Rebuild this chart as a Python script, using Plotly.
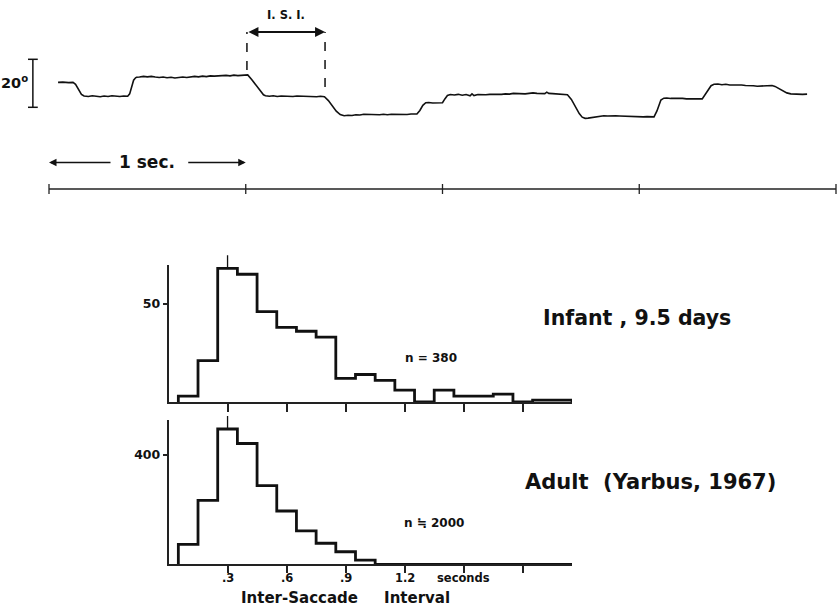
import plotly.graph_objects as go

# ---------------- data ----------------
# Eye-position record (time in s, horizontal eye position in degrees)
eye_t = [0.046, 0.07, 0.10, 0.122, 0.135, 0.150, 0.165, 0.178,
         0.20, 0.22, 0.24, 0.26, 0.28, 0.30, 0.32, 0.34, 0.36, 0.38, 0.40,
         0.41, 0.42, 0.43, 0.44, 0.445,
         0.46, 0.48, 0.50, 0.52, 0.54, 0.56, 0.58, 0.60, 0.62, 0.64, 0.66, 0.68, 0.70,
         0.72, 0.74, 0.76, 0.78, 0.80, 0.82, 0.84, 0.86, 0.88, 0.90, 0.92, 0.94, 0.96,
         0.98, 1.00, 1.01,
         1.03, 1.05, 1.07, 1.09, 1.10,
         1.12, 1.14, 1.16, 1.18, 1.20, 1.22, 1.24, 1.26, 1.28, 1.30, 1.32, 1.34, 1.36,
         1.38, 1.40,
         1.42, 1.44, 1.46, 1.48, 1.50,
         1.52, 1.54, 1.56, 1.58, 1.60, 1.62, 1.64, 1.66, 1.68, 1.70, 1.72, 1.74, 1.76,
         1.78, 1.80, 1.82, 1.84, 1.86, 1.87,
         1.885, 1.90, 1.915,
         1.93, 1.95, 1.97, 1.99, 2.00,
         2.012, 2.025, 2.04,
         2.06, 2.08, 2.10, 2.12, 2.14, 2.15, 2.16, 2.18, 2.20, 2.22, 2.24, 2.26, 2.28,
         2.30, 2.32, 2.34, 2.36, 2.38, 2.40, 2.42, 2.44, 2.46, 2.48, 2.50, 2.52, 2.53,
         2.54, 2.56, 2.58, 2.60, 2.62, 2.635,
         2.655, 2.675, 2.695, 2.71, 2.725,
         2.74, 2.76, 2.78, 2.80, 2.82, 2.84, 2.86, 2.88, 2.90, 2.92, 2.94, 2.96, 2.98,
         3.00, 3.02, 3.04, 3.06, 3.075,
         3.09, 3.10, 3.11, 3.125,
         3.14, 3.16, 3.18, 3.20, 3.22, 3.24, 3.26, 3.28, 3.30, 3.32,
         3.335, 3.35, 3.365, 3.38,
         3.40, 3.42, 3.44, 3.46, 3.48, 3.50, 3.52, 3.54, 3.56, 3.58, 3.60, 3.62, 3.64,
         3.66, 3.675,
         3.69, 3.71, 3.73, 3.75, 3.77,
         3.79, 3.81, 3.83, 3.853]
eye_deg = [10.4, 10.5, 10.3, 10.4, 9.6, 7.3, 5.4, 4.7,
           4.5, 4.8, 4.6, 4.4, 4.7, 4.5, 4.8, 4.6, 4.5, 4.7, 4.6,
           5.6, 8.5, 11.3, 12.3, 12.5,
           12.6, 12.9, 12.7, 12.9, 12.6, 12.4, 12.6, 12.3, 12.5, 12.2, 12.4, 12.6, 12.4,
           12.7, 12.9, 12.7, 13.0, 12.8, 13.1, 13.0, 13.2, 13.1, 13.3, 13.1, 13.4, 13.2,
           13.4, 13.5, 13.5,
           11.6, 9.3, 7.0, 5.2, 4.8,
           4.6, 4.8, 4.5, 4.7, 4.6, 4.8, 4.5, 4.7, 4.6, 4.8, 4.5, 4.6, 4.4,
           4.6, 4.4,
           2.8, 0.5, -1.6, -3.0, -3.5,
           -3.3, -3.4, -3.1, -3.2, -2.9, -3.0, -2.8, -3.0, -3.1, -2.9, -3.1, -2.9, -3.0,
           -2.8, -2.9, -3.0, -2.8, -2.9, -2.8,
           -1.3, 0.8, 1.9,
           2.0, 1.8, 1.9, 1.8, 1.9,
           3.5, 4.9, 5.3,
           5.1, 5.4, 5.0, 5.3, 4.8, 5.6, 4.9, 5.3, 5.1, 5.2, 5.4, 5.3, 5.5,
           5.4, 5.6, 5.5, 5.8, 5.7, 5.9, 5.6, 5.8, 6.0, 5.8, 5.9, 5.7, 6.3,
           5.8, 5.7, 5.6, 5.5, 5.4, 5.2,
           3.3, 0.3, -2.6, -4.1, -4.6,
           -4.5, -4.2, -3.9, -3.7, -3.5, -3.6, -3.4, -3.5, -3.6, -3.7, -3.6, -3.8, -3.9,
           -3.8, -4.0, -3.9, -4.1, -4.0,
           -1.5, 1.2, 3.0, 3.8,
           3.9, 3.7, 3.8, 3.6, 3.7, 3.5, 3.6, 3.4, 3.5, 3.5,
           5.2, 7.4, 9.0, 9.6,
           9.7, 9.4, 9.6, 9.3, 9.4, 9.2, 9.3, 9.1, 9.2, 9.0, 8.8, 8.9, 9.1,
           9.2, 9.1,
           8.7, 7.9, 6.9, 6.0, 5.6,
           5.5, 5.6, 5.4, 5.5]

isi_start = 1.006      # saccades bounding the marked inter-saccade interval
isi_end = 1.403
time_ticks = [0, 1, 2, 3, 4]      # seconds on the time scale bar
deg_scale = [0, 20]               # calibration bar, degrees

# Inter-saccade interval histograms (bin centres in s, counts)
bin_centers = [0.1, 0.2, 0.3, 0.4, 0.5, 0.6, 0.7, 0.8, 0.9, 1.0,
               1.1, 1.2, 1.3, 1.4, 1.5, 1.6, 1.7, 1.8, 1.9, 2.0]
infant_counts = [3, 21, 68, 65, 46, 38, 36, 33, 12, 14,
                 11, 6, 0, 6, 3, 3, 4, 0, 1, 1]
adult_counts = [73, 234, 495, 442, 288, 195, 122, 77, 46, 15,
                0, 0, 0, 0, 0, 0, 0, 0, 0, 0]
infant_mode = 0.3
adult_mode = 0.3
hist_ticks = [0.3, 0.6, 0.9, 1.2, 1.5, 1.8]
adult_tick_text = ['.3', '.6', '.9', '1.2', 'seconds', '']

# ---------------- layout helpers ----------------
W, H = 838, 610
FONT = 'DejaVu Sans'
INK = '#111111'


def px(x):
    return x / W


def py(y):
    return 1 - y / H


bw = bin_centers[1] - bin_centers[0]


def step_xy(counts):
    xs = [bin_centers[0] - bw / 2]
    ys = [0]
    for c, v in zip(bin_centers, counts):
        xs.append(c - bw / 2)
        ys.append(v)
    xs.append(bin_centers[-1] + bw / 2)
    ys.append(0)
    return xs, ys


fig = go.Figure()

# eye-position trace
fig.add_trace(go.Scatter(x=eye_t, y=eye_deg, mode='lines', xaxis='x', yaxis='y',
                         line=dict(color=INK, width=1.6), hoverinfo='skip'))
# 20 degree calibration bar
fig.add_trace(go.Scatter(x=[-0.082, -0.082], y=deg_scale, mode='lines+markers',
                         xaxis='x', yaxis='y',
                         line=dict(color=INK, width=1.5),
                         marker=dict(symbol='line-ew', size=7,
                                     line=dict(color=INK, width=1.5)),
                         hoverinfo='skip'))

# histograms
ix, iy = step_xy(infant_counts)
fig.add_trace(go.Scatter(x=ix, y=iy, mode='lines', xaxis='x2', yaxis='y2',
                         line=dict(color=INK, width=2.8, shape='hv'),
                         cliponaxis=False, hoverinfo='skip'))
ax_, ay_ = step_xy(adult_counts)
fig.add_trace(go.Scatter(x=ax_, y=ay_, mode='lines', xaxis='x3', yaxis='y3',
                         line=dict(color=INK, width=2.8, shape='hv'),
                         cliponaxis=False, hoverinfo='skip'))

# axis geometry
x_dom = [px(168.5), px(572)]
x_rng = [0, 2.05]
y2_dom = [py(402), py(265)]
y2_rng = [0, 69.7]
y3_dom = [py(564.3), py(420)]
y3_rng = [0, 528]

trace_x_rng = [(0 - 49) / 196.75, (W - 49) / 196.75]
trace_y_rng = [(107.3 - H) / 2.4, 107.3 / 2.4]


def to_paper(v, dom, rng):
    return dom[0] + (v - rng[0]) / (rng[1] - rng[0]) * (dom[1] - dom[0])


hidden = dict(visible=False, showgrid=False, zeroline=False, fixedrange=True)
hist_x_common = dict(domain=x_dom, range=x_rng, showline=True, linecolor='#222',
                     linewidth=1.5, ticks='outside', tickcolor='#222', tickwidth=1.5,
                     tickvals=hist_ticks, showticklabels=False,
                     showgrid=False, zeroline=False)
hist_y_common = dict(showline=True, linecolor='#222', linewidth=1.5,
                     ticks='outside', ticklen=4, tickcolor='#222', tickwidth=1.5,
                     showgrid=False, zeroline=False,
                     tickfont=dict(family=FONT, size=12.5, color=INK))

fig.update_layout(
    width=W, height=H, margin=dict(l=0, r=0, t=0, b=0),
    paper_bgcolor='white', plot_bgcolor='rgba(0,0,0,0)', showlegend=False,
    xaxis=dict(domain=[0, 1], range=trace_x_rng, **hidden),
    yaxis=dict(domain=[0, 1], range=trace_y_rng, **hidden),
    xaxis2=dict(anchor='y2', ticklen=8, **hist_x_common),
    yaxis2=dict(anchor='x2', domain=y2_dom, range=y2_rng,
                tickvals=[50], ticktext=['<b>50</b>'], **hist_y_common),
    xaxis3=dict(anchor='y3', ticklen=7, **hist_x_common),
    yaxis3=dict(anchor='x3', domain=y3_dom, range=y3_rng,
                tickvals=[400], ticktext=['<b>400</b>'], **hist_y_common),
)

shapes = []
# time scale bar with second ticks
bar_y = py(189)
shapes.append(dict(type='line', xref='x', yref='paper', x0=time_ticks[0], x1=time_ticks[-1],
                   y0=bar_y, y1=bar_y, line=dict(color='#222', width=1.5)))
for t in time_ticks:
    shapes.append(dict(type='line', xref='x', yref='paper', x0=t, x1=t,
                       y0=py(184), y1=py(194), line=dict(color='#222', width=1.3)))
# I.S.I. dashed markers
shapes.append(dict(type='line', xref='x', yref='y', x0=isi_start, x1=isi_start,
                   y0=15.5, y1=31.4, line=dict(color=INK, width=1.5, dash='dash')))
shapes.append(dict(type='line', xref='x', yref='y', x0=isi_end, x1=isi_end,
                   y0=8.5, y1=31.4, line=dict(color=INK, width=1.5, dash='dash')))
# mode markers above the histogram peaks
for mode, counts, dom, rng in [(infant_mode, infant_counts, y2_dom, y2_rng),
                               (adult_mode, adult_counts, y3_dom, y3_rng)]:
    top = max(counts)
    y0 = to_paper(top, dom, rng)
    shapes.append(dict(type='line', xref='x2', yref='paper', x0=mode, x1=mode,
                       y0=y0, y1=y0 + 13 / H, line=dict(color=INK, width=1.3)))
fig.update_layout(shapes=shapes)


def label(x, y, text, size, xanchor='center', xref='paper', yref='paper'):
    return dict(x=x, y=y, xref=xref, yref=yref, xanchor=xanchor, yanchor='middle',
                text='<b>%s</b>' % text, showarrow=False,
                font=dict(family=FONT, size=size, color=INK))


ann = []
# double arrow for the interval
ann.append(dict(x=isi_end, y=31.4, xref='x', yref='y', ax=-(isi_end - isi_start) * 196.75,
                ay=0, axref='pixel', ayref='pixel', text='', showarrow=True,
                arrowhead=2, startarrowhead=2, arrowside='end+start', arrowsize=1,
                startarrowsize=1, arrowwidth=2, arrowcolor=INK))
ann.append(label((isi_start + isi_end) / 2, 38.6, 'I. S. I.', 11.5, xref='x', yref='y'))
# 1 sec arrows
ann.append(dict(x=0, y=py(162.5), xref='x', yref='paper', ax=63, ay=0, text='',
                showarrow=True, arrowhead=2, arrowsize=1, arrowwidth=1.5, arrowcolor=INK))
ann.append(dict(x=1, y=py(162.5), xref='x', yref='paper', ax=-59, ay=0, text='',
                showarrow=True, arrowhead=2, arrowsize=1, arrowwidth=1.5, arrowcolor=INK))
ann.append(label(0.5, py(162), '1 sec.', 17, xref='x'))
ann.append(label(px(30), py(82), '20<sup>o</sup>', 14.5, xanchor='right'))
# tick labels of the lower histogram
for t, s in zip(hist_ticks, adult_tick_text):
    if s:
        ann.append(label(t, py(578), s, 11.5, xref='x3'))
# histogram labels
ann.append(label(px(403), py(358), 'n = 380', 12, xanchor='left'))
ann.append(label(px(402), py(523), 'n \u2252 2000', 12, xanchor='left'))
ann.append(label(px(637), py(318), 'Infant , 9.5 days', 20.5))
ann.append(label(px(650), py(482), 'Adult \u00a0(Yarbus, 1967)', 21))
ann.append(label(px(345), py(598), 'Inter-Saccade\u00a0\u00a0\u00a0\u00a0 Interval', 15))
fig.update_layout(annotations=ann)

fig.write_html('out.html')
